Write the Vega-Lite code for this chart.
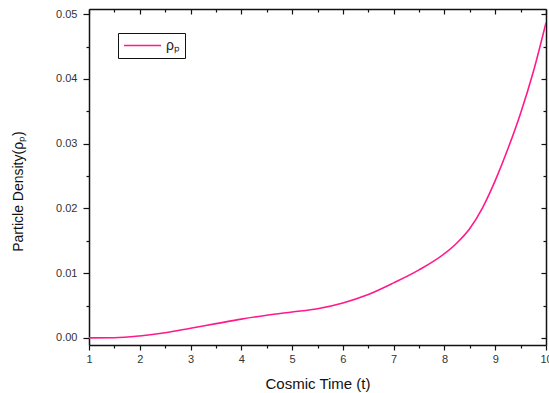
{
  "$schema": "https://vega.github.io/schema/vega-lite/v6.json",
  "width": 457,
  "height": 336,
  "autosize": {"type": "none"},
  "padding": {"left": 89, "top": 9, "right": 3, "bottom": 48},
  "background": "white",
  "config": {
    "view": {"stroke": null},
    "font": "Liberation Sans",
    "axis": {
      "domainColor": "#111",
      "domainWidth": 1.5,
      "tickColor": "#111",
      "tickWidth": 1.2,
      "grid": false,
      "labelFont": "Liberation Sans",
      "labelColor": "#333",
      "labelFontSize": 11,
      "titleFont": "Liberation Sans",
      "titleFontWeight": "normal",
      "titleColor": "#111"
    }
  },
  "data": {
    "values": [
      {"t": 1.0, "rho": 0.0},
      {"t": 1.5, "rho": 0.00002},
      {"t": 2.0, "rho": 0.0003},
      {"t": 2.5, "rho": 0.0008},
      {"t": 3.0, "rho": 0.0015},
      {"t": 3.5, "rho": 0.0022},
      {"t": 4.0, "rho": 0.0029},
      {"t": 4.5, "rho": 0.0035},
      {"t": 5.0, "rho": 0.0040},
      {"t": 5.5, "rho": 0.0045},
      {"t": 6.0, "rho": 0.0054},
      {"t": 6.5, "rho": 0.0067},
      {"t": 7.0, "rho": 0.0085},
      {"t": 7.5, "rho": 0.0105},
      {"t": 8.0, "rho": 0.0130},
      {"t": 8.25, "rho": 0.0147},
      {"t": 8.5, "rho": 0.0169},
      {"t": 8.75, "rho": 0.0201},
      {"t": 9.0, "rho": 0.0243},
      {"t": 9.25, "rho": 0.0292},
      {"t": 9.5, "rho": 0.0347},
      {"t": 9.75, "rho": 0.0411},
      {"t": 10.0, "rho": 0.0487}
    ]
  },
  "layer": [
    {
      "mark": {"type": "line", "strokeWidth": 1.6, "interpolate": "monotone", "clip": true},
      "encoding": {
        "x": {
          "field": "t", "type": "quantitative",
          "scale": {"domain": [1, 10], "nice": false, "zero": false},
          "axis": {
            "orient": "bottom",
            "title": "Cosmic Time (t)",
            "titleFontSize": 15,
            "titlePadding": 12,
            "values": [1, 1.5, 2, 2.5, 3, 3.5, 4, 4.5, 5, 5.5, 6, 6.5, 7, 7.5, 8, 8.5, 9, 9.5, 10],
            "labelExpr": "datum.value % 1 === 0 ? format(datum.value, 'd') : ''",
            "tickSize": {"condition": {"test": "datum.value % 1 === 0", "value": 5}, "value": 3},
            "labelPadding": 3,
            "labelFlush": false,
            "labelOverlap": false
          }
        },
        "y": {
          "field": "rho", "type": "quantitative",
          "scale": {"domain": [-0.0011, 0.0508], "nice": false, "zero": false},
          "axis": {
            "orient": "left",
            "title": "Particle Density(ρₚ)",
            "titleFontSize": 14,
            "titleX": -64,
            "titleY": 182,
            "values": [0, 0.005, 0.01, 0.015, 0.02, 0.025, 0.03, 0.035, 0.04, 0.045, 0.05],
            "labelExpr": "abs(datum.value*100 - round(datum.value*100)) < 1e-6 ? format(datum.value, '.2f') : ''",
            "tickSize": {"condition": {"test": "abs(datum.value*100 - round(datum.value*100)) < 1e-6", "value": 6}, "value": 3},
            "labelPadding": 6,
            "labelOverlap": false
          }
        },
        "color": {
          "datum": "ρₚ",
          "type": "nominal",
          "scale": {"range": ["#ff1a8c"]},
          "legend": {
            "title": null,
            "orient": "none",
            "legendX": 29,
            "legendY": 24,
            "strokeColor": "#111",
            "padding": 5,
            "clipHeight": 15,
            "symbolType": "stroke",
            "symbolSize": 1369,
            "symbolStrokeWidth": 1.6,
            "labelFontSize": 14,
            "labelColor": "#222",
            "labelFont": "Liberation Sans",
            "labelOffset": 4
          }
        }
      }
    },
    {
      "mark": {"type": "line", "strokeOpacity": 0},
      "encoding": {
        "x": {
          "field": "t", "type": "quantitative",
          "scale": {"domain": [1, 10], "nice": false, "zero": false},
          "axis": {
            "orient": "top",
            "title": null,
            "labels": false,
            "values": [1, 1.5, 2, 2.5, 3, 3.5, 4, 4.5, 5, 5.5, 6, 6.5, 7, 7.5, 8, 8.5, 9, 9.5, 10],
            "tickSize": {"condition": {"test": "datum.value % 1 === 0", "value": -5}, "value": -3}
          }
        },
        "y": {
          "field": "rho", "type": "quantitative",
          "scale": {"domain": [-0.0011, 0.0508], "nice": false, "zero": false},
          "axis": {
            "orient": "right",
            "title": null,
            "labels": false,
            "values": [0, 0.005, 0.01, 0.015, 0.02, 0.025, 0.03, 0.035, 0.04, 0.045, 0.05],
            "tickSize": {"condition": {"test": "abs(datum.value*100 - round(datum.value*100)) < 1e-6", "value": -5}, "value": -3}
          }
        }
      }
    }
  ],
  "resolve": {"axis": {"x": "independent", "y": "independent"}}
}
